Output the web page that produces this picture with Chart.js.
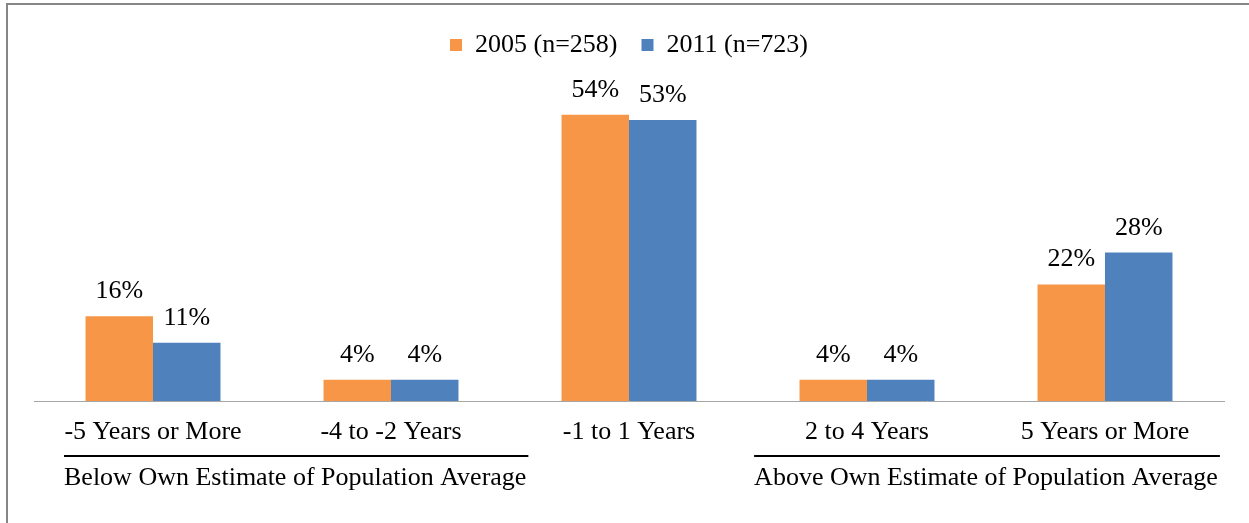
<!DOCTYPE html>
<html>
<head>
<meta charset="utf-8">
<script src="https://cdn.jsdelivr.net/npm/chart.js@4.4.0/dist/chart.umd.min.js"></script>
<style>
  html, body { margin: 0; padding: 0; background: #fff; }
  #wrap { width: 1249px; height: 523px; position: relative; }
</style>
</head>
<body>
<div id="wrap"><canvas id="estimateChart"></canvas></div>
<script>
// chart data
const categories = ['-5 Years or More', '-4 to -2 Years', '-1 to 1 Years', '2 to 4 Years', '5 Years or More'];
const seriesLabels = ['2005 (n=258)', '2011 (n=723)'];
const values2005 = [16, 4, 54, 4, 22];
const values2011 = [11, 4, 53, 4, 28];
const groupLabels = ['Below Own Estimate of Population Average', 'Above Own Estimate of Population Average'];
const groupFirst = [0, 3];
const groupLast = [1, 4];

const FONT = '"Liberation Serif", "Times New Roman", serif';
const FONT_SIZE = 26;

/**
 * Frame lines (only top and left show in the picture)
 */
const framePlugin = {
    id: 'frame',
    beforeDraw(chart) {
        const ctx = chart.ctx;
        ctx.save();
        ctx.strokeStyle = '#868686';
        ctx.lineWidth = 2;
        ctx.beginPath();
        ctx.moveTo(7, chart.height);
        ctx.lineTo(7, 4);
        ctx.lineTo(chart.width, 4);
        ctx.stroke();
        ctx.restore();
    }
};

/**
 * Percent labels above each bar
 */
const valueLabelPlugin = {
    id: 'valueLabels',
    afterDatasetsDraw(chart) {
        const ctx = chart.ctx;
        ctx.save();
        ctx.font = FONT_SIZE + 'px ' + FONT;
        ctx.fillStyle = '#000';
        ctx.textAlign = 'center';
        ctx.textBaseline = 'alphabetic';
        chart.data.datasets.forEach((ds, i) => {
            chart.getDatasetMeta(i).data.forEach((bar, j) => {
                ctx.fillText(ds.data[j] + '%', bar.x, bar.y - 18);
            });
        });
        ctx.restore();
    }
};

/**
 * Group captions under the category labels, with a rule above each
 */
const groupPlugin = {
    id: 'groups',
    afterDraw(chart) {
        const ctx = chart.ctx;
        const x = chart.scales.x;
        ctx.save();
        ctx.font = FONT_SIZE + 'px ' + FONT;
        ctx.fillStyle = '#000';
        ctx.strokeStyle = '#000';
        ctx.lineWidth = 2;
        ctx.textBaseline = 'middle';
        ctx.textAlign = 'left';
        groupLabels.forEach((text, g) => {
            const center = (x.getPixelForValue(groupFirst[g]) + x.getPixelForValue(groupLast[g])) / 2;
            const w = ctx.measureText(text).width;
            let left = center - w / 2;
            left = Math.max(left, chart.chartArea.left + 30);
            ctx.beginPath();
            ctx.moveTo(left, 456);
            ctx.lineTo(left + w + 2, 456);
            ctx.stroke();
            ctx.fillText(text, left, 478);
        });
        ctx.restore();
    }
};

const ctx = document.getElementById('estimateChart');
new Chart(ctx, {
    type: 'bar',
    data: {
        labels: categories,
        datasets: [{
            label: seriesLabels[0],
            data: values2005,
            backgroundColor: '#F79646'
        }, {
            label: seriesLabels[1],
            data: values2011,
            backgroundColor: '#4F81BD'
        }]
    },
    options: {
        responsive: true,
        maintainAspectRatio: false,
        animation: false,
        devicePixelRatio: 1,
        categoryPercentage: 0.567,
        barPercentage: 1.0,
        layout: {
            padding: { top: 8, left: 34, right: 25, bottom: 0 }
        },
        plugins: {
            legend: {
                display: true,
                position: 'top',
                labels: {
                    color: '#000',
                    font: { family: FONT, size: FONT_SIZE },
                    boxWidth: 12,
                    boxHeight: 12,
                    padding: 24
                }
            },
            tooltip: { enabled: false }
        },
        scales: {
            x: {
                grid: { display: false, drawTicks: false },
                border: { display: true, color: '#a6a6a6', width: 1 },
                ticks: {
                    color: '#000',
                    font: { family: FONT, size: FONT_SIZE },
                    padding: 16,
                    maxRotation: 0,
                    autoSkip: false
                },
                afterFit(scale) {
                    scale.height = 122;
                }
            },
            y: {
                display: false,
                min: 0,
                max: 60
            }
        }
    },
    plugins: [framePlugin, valueLabelPlugin, groupPlugin, {
        id: 'legendHeight',
        beforeInit(chart) {
            const origFit = chart.legend.fit;
            chart.legend.fit = function () {
                origFit.bind(chart.legend)();
                this.height = 75;
            };
        }
    }]
});
</script>
</body>
</html>
